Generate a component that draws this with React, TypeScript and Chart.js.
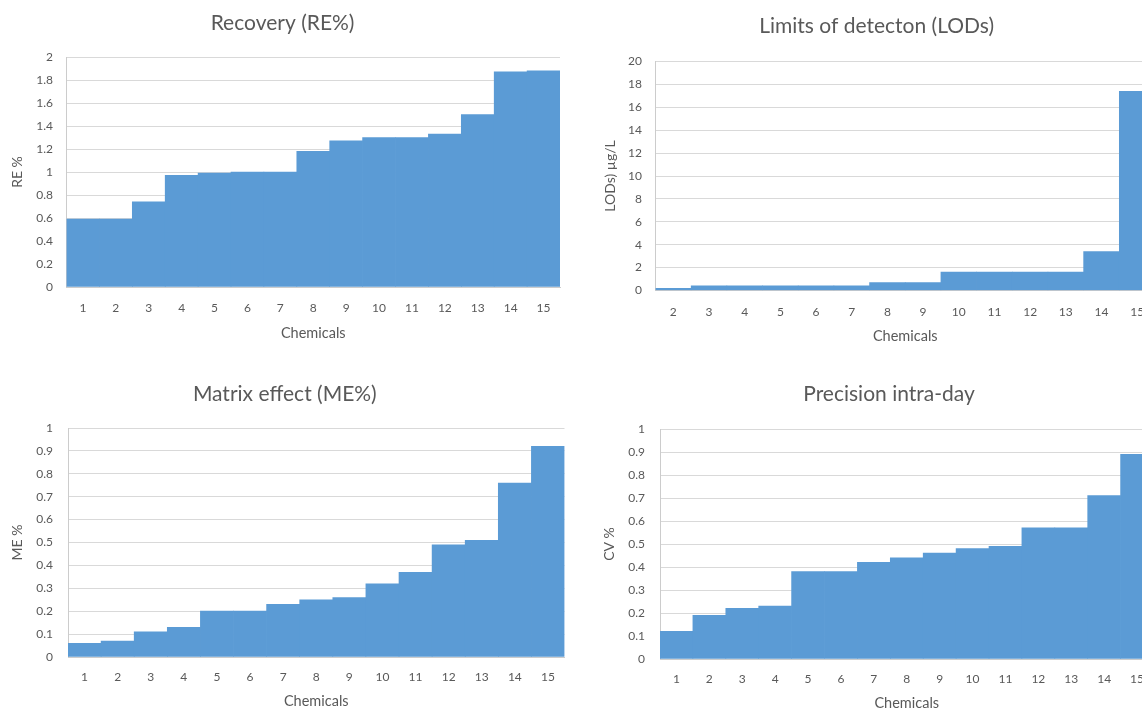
import React, { useEffect, useRef } from "react";
import { Chart, registerables } from "chart.js";

Chart.register(...registerables);

// ---------- data ----------
const chemicals = ["1", "2", "3", "4", "5", "6", "7", "8", "9", "10", "11", "12", "13", "14", "15"];
const lodChemicals = ["2", "3", "4", "5", "6", "7", "8", "9", "10", "11", "12", "13", "14", "15"];

const recoveryValues = [0.59, 0.59, 0.74, 0.97, 0.99, 1.0, 1.0, 1.18, 1.27, 1.3, 1.3, 1.33, 1.5, 1.87, 1.88];
const lodValues = [0.2, 0.4, 0.4, 0.4, 0.4, 0.4, 0.7, 0.7, 1.6, 1.6, 1.6, 1.6, 3.4, 17.4];
const matrixValues = [0.06, 0.07, 0.11, 0.13, 0.2, 0.2, 0.23, 0.25, 0.26, 0.32, 0.37, 0.49, 0.51, 0.76, 0.92];
const precisionValues = [0.12, 0.19, 0.22, 0.23, 0.38, 0.38, 0.42, 0.44, 0.46, 0.48, 0.49, 0.57, 0.57, 0.71, 0.89];

const recoveryAxis = { max: 2, step: 0.2 };
const lodAxis = { max: 20, step: 2 };
const matrixAxis = { max: 1, step: 0.1 };
const precisionAxis = { max: 1, step: 0.1 };

const titles = ["Recovery (RE%)", "Limits of detecton (LODs)", "Matrix effect (ME%)", "Precision intra-day"];
const yTitles = ["RE %", "LODs) µg/L", "ME %", "CV %"];
const xTitle = "Chemicals";

// ---------- styling ----------
const FONT = "Lato, 'Open Sans', sans-serif";
const TEXT = "#595959";
const GRID = "#d9d9d9";
const AXIS = "#cccccc";
const BAR = "#5b9bd5";

type Geo = {
  left: number; top: number; width: number; height: number;
  padL: number; padR: number;
  titleTop: number; titleBottom: number;
  yWidth: number; yTickPad: number; yTitlePad: number;
  xHeight: number; xTickPad: number;
};

function makeConfig(labels: string[], values: number[], axis: { max: number; step: number }, title: string, yTitle: string, g: Geo): any {
  return {
    type: "bar",
    data: {
      labels,
      datasets: [{
        data: values,
        backgroundColor: BAR,
        borderWidth: 0,
        barPercentage: 1,
        categoryPercentage: 1,
      }],
    },
    options: {
      responsive: false,
      animation: false,
      layout: { padding: { left: g.padL, right: g.padR, top: 0, bottom: 0 } },
      plugins: {
        legend: { display: false },
        tooltip: { enabled: false },
        title: {
          display: true,
          text: title,
          color: TEXT,
          font: { family: FONT, size: 21, weight: "normal" },
          padding: { top: g.titleTop, bottom: g.titleBottom },
        },
      },
      scales: {
        x: {
          type: "category",
          offset: true,
          grid: { display: false, drawTicks: false },
          border: { display: true, color: AXIS },
          ticks: { color: TEXT, font: { family: FONT, size: 12 }, padding: g.xTickPad, maxRotation: 0, autoSkip: false },
          title: {
            display: true, text: xTitle, color: TEXT,
            font: { family: FONT, size: 14.5 },
            padding: { top: 0, bottom: 1.3 },
          },
          afterFit: (s: any) => { s.height = g.xHeight; },
        },
        y: {
          min: 0,
          max: axis.max,
          grid: { color: GRID, drawTicks: false },
          border: { display: true, color: AXIS },
          ticks: {
            stepSize: axis.step,
            color: TEXT,
            font: { family: FONT, size: 12 },
            padding: g.yTickPad,
            callback: (v: any) => String(+Number(v).toFixed(2)),
          },
          title: {
            display: true, text: yTitle, color: TEXT,
            font: { family: FONT, size: 14 },
            padding: { top: g.yTitlePad, bottom: 4 },
          },
          afterFit: (s: any) => { s.width = g.yWidth; },
        },
      },
    },
  };
}

function BarPanel(props: { labels: string[]; values: number[]; axis: { max: number; step: number }; title: string; yTitle: string; g: Geo }) {
  const ref = useRef<HTMLCanvasElement | null>(null);
  useEffect(() => {
    if (!ref.current) return;
    const chart = new Chart(ref.current, makeConfig(props.labels, props.values, props.axis, props.title, props.yTitle, props.g));
    return () => chart.destroy();
  }, []);
  const g = props.g;
  return (
    <div style={{ position: "absolute", left: g.left, top: g.top, width: g.width, height: g.height }}>
      <canvas ref={ref} width={g.width} height={g.height} style={{ display: "block" }} />
    </div>
  );
}

const geoA: Geo = { left: 0, top: 0, width: 570, height: 343, padL: 5.1, padR: 10, titleTop: 10.9, titleBottom: 20.9, yWidth: 61.4, yTickPad: 13.5, yTitlePad: 4, xHeight: 56, xTickPad: 13.8 };
const geoB: Geo = { left: 595, top: 0, width: 570, height: 346, padL: 3.3, padR: 10, titleTop: 13.4, titleBottom: 22.9, yWidth: 57.2, yTickPad: 13.5, yTitlePad: 4, xHeight: 55.5, xTickPad: 14.3 };
const geoC: Geo = { left: 0, top: 370, width: 575, height: 341, padL: 5.1, padR: 10.5, titleTop: 11.4, titleBottom: 21.4, yWidth: 62.9, yTickPad: 15, yTitlePad: 4, xHeight: 54, xTickPad: 12.8 };
const geoD: Geo = { left: 596, top: 370, width: 570, height: 343, padL: 28.5, padR: 12.5, titleTop: 11.4, titleBottom: 22.4, yWidth: 35.5, yTickPad: 15, yTitlePad: -23.9, xHeight: 54, xTickPad: 12.8 };

export default function App() {
  return (
    <div style={{ position: "fixed", left: 0, top: 0, width: 1142, height: 709, overflow: "hidden", background: "#ffffff" }}>
      <BarPanel labels={chemicals} values={recoveryValues} axis={recoveryAxis} title={titles[0]} yTitle={yTitles[0]} g={geoA} />
      <BarPanel labels={lodChemicals} values={lodValues} axis={lodAxis} title={titles[1]} yTitle={yTitles[1]} g={geoB} />
      <BarPanel labels={chemicals} values={matrixValues} axis={matrixAxis} title={titles[2]} yTitle={yTitles[2]} g={geoC} />
      <BarPanel labels={chemicals} values={precisionValues} axis={precisionAxis} title={titles[3]} yTitle={yTitles[3]} g={geoD} />
    </div>
  );
}
